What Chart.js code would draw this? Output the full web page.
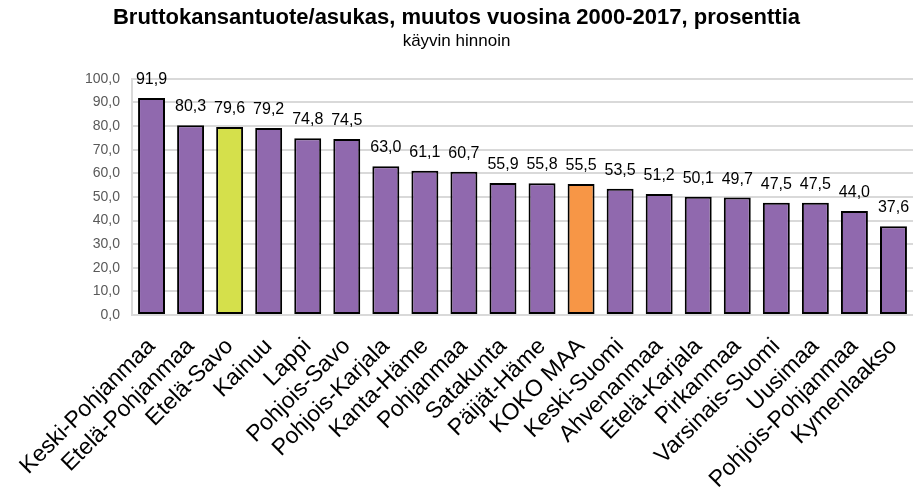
<!DOCTYPE html>
<html>
<head>
<meta charset="utf-8">
<script src="https://cdn.jsdelivr.net/npm/chart.js@4/dist/chart.umd.min.js"></script>
<style>
  html, body { margin: 0; padding: 0; background: #ffffff; }
  #wrap { width: 913px; height: 492px; position: relative; }
</style>
</head>
<body>
<div id="wrap"><canvas id="c" width="913" height="492"></canvas></div>
<script>
const categories = ["Keski-Pohjanmaa","Etelä-Pohjanmaa","Etelä-Savo","Kainuu","Lappi","Pohjois-Savo","Pohjois-Karjala","Kanta-Häme","Pohjanmaa","Satakunta","Päijät-Häme","KOKO MAA","Keski-Suomi","Ahvenanmaa","Etelä-Karjala","Pirkanmaa","Varsinais-Suomi","Uusimaa","Pohjois-Pohjanmaa","Kymenlaakso"];
const values = [91.9,80.3,79.6,79.2,74.8,74.5,63.0,61.1,60.7,55.9,55.8,55.5,53.5,51.2,50.1,49.7,47.5,47.5,44.0,37.6];
const barColors = ["#9069ae","#9069ae","#d5e04b","#9069ae","#9069ae","#9069ae","#9069ae","#9069ae","#9069ae","#9069ae","#9069ae","#f79646","#9069ae","#9069ae","#9069ae","#9069ae","#9069ae","#9069ae","#9069ae","#9069ae"];
const yTicks = [0,10,20,30,40,50,60,70,80,90,100];
const titleText = "Bruttokansantuote/asukas, muutos vuosina 2000-2017, prosenttia";
const subtitleText = "käyvin hinnoin";

const FONT = "'Liberation Sans', Arial, sans-serif";
const fmt = v => v.toFixed(1).replace('.', ',');

const dataLabels = {
  id: 'dataLabels',
  afterDatasetsDraw(chart) {
    const ctx = chart.ctx;
    const meta = chart.getDatasetMeta(0);
    ctx.save();
    ctx.font = "16px " + FONT;
    ctx.fillStyle = "#000000";
    ctx.textAlign = "center";
    ctx.textBaseline = "alphabetic";
    meta.data.forEach((bar, i) => {
      ctx.fillText(fmt(values[i]), bar.x, bar.y - 14);
    });
    ctx.restore();
  }
};

new Chart(document.getElementById('c'), {
  type: 'bar',
  data: {
    labels: categories,
    datasets: [{
      data: values,
      backgroundColor: barColors,
      borderColor: "#000000",
      borderWidth: 2,
      borderSkipped: false,
      barPercentage: 0.69,
      categoryPercentage: 1.0
    }]
  },
  options: {
    responsive: false,
    animation: false,
    devicePixelRatio: 1,
    layout: { padding: { left: 0, right: 0, top: 0, bottom: 0 } },
    plugins: {
      legend: { display: false },
      tooltip: { enabled: false },
      title: {
        display: true,
        text: titleText,
        color: "#000000",
        font: { family: FONT, size: 22, weight: 'bold' },
        padding: { top: 5, bottom: 0 }
      },
      subtitle: {
        display: true,
        text: subtitleText,
        color: "#000000",
        font: { family: FONT, size: 17 },
        padding: { top: 0, bottom: 27 }
      }
    },
    scales: {
      x: {
        grid: { display: false, drawTicks: false },
        border: { display: true, color: "#d9d9d9", width: 2 },
        ticks: {
          color: "#000000",
          font: { family: FONT, size: 23 },
          minRotation: 45,
          maxRotation: 45,
          autoSkip: false,
          padding: 18
        },
        afterFit(s) { s.height = 177; s.paddingLeft = 0; s.paddingRight = 0; }
      },
      y: {
        min: 0,
        max: 100,
        afterBuildTicks(s) { s.ticks = yTicks.map(v => ({ value: v })); },
        grid: { color: "#d9d9d9", lineWidth: 2, drawTicks: false },
        border: { display: true, color: "#d9d9d9", width: 2 },
        ticks: {
          color: "#595959",
          font: { family: FONT, size: 14 },
          padding: 12,
          callback: v => fmt(v)
        },
        afterFit(s) { s.width = 132; }
      }
    }
  },
  plugins: [dataLabels]
});
</script>
</body>
</html>
